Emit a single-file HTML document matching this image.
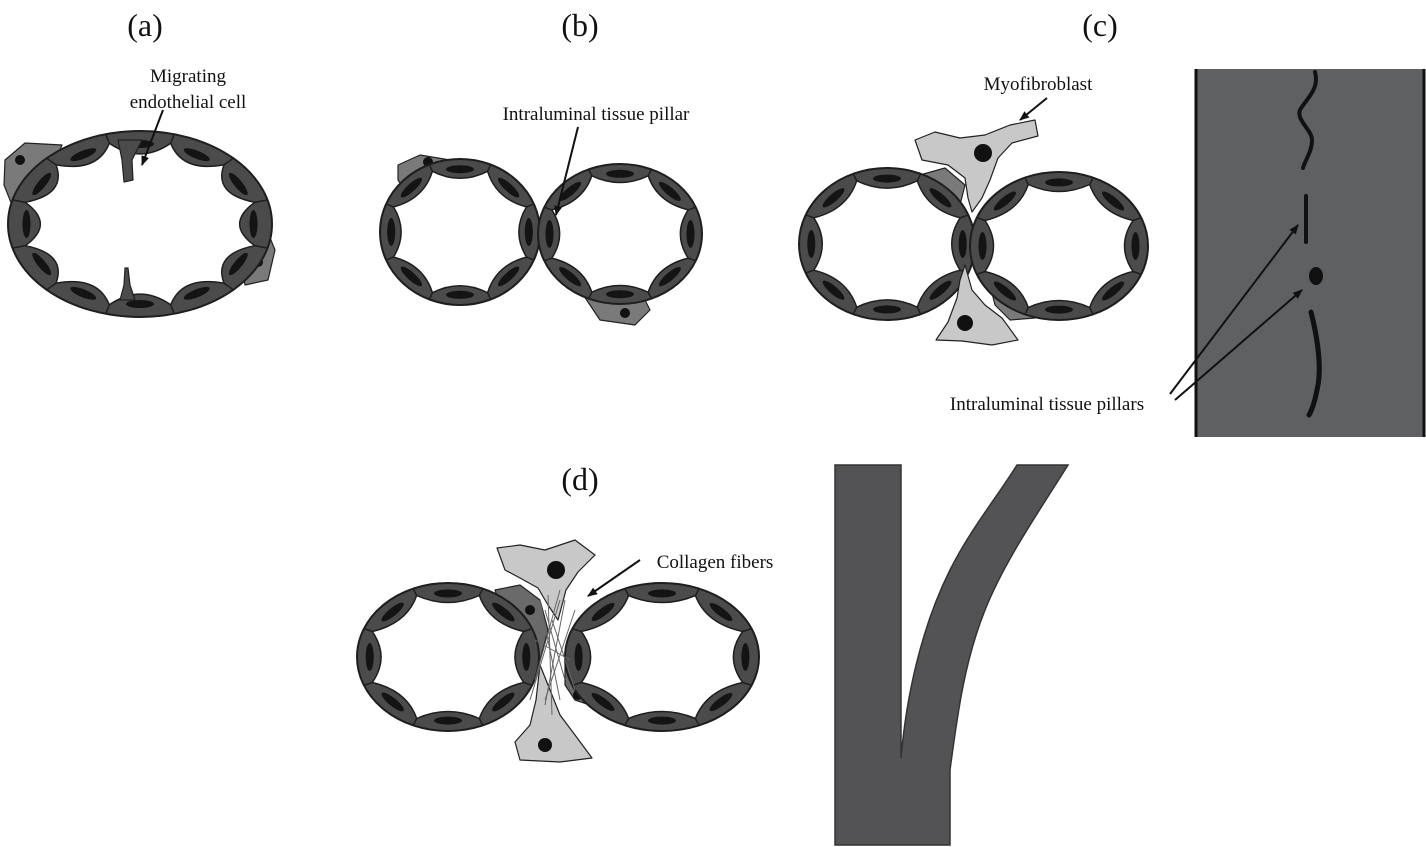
<!DOCTYPE html>
<html><head><meta charset="utf-8"><style>
html,body{margin:0;padding:0;background:#fff;}
svg{display:block;}
text{font-family:"Liberation Serif",serif;fill:#111;}
</style></head><body>
<svg id="s" width="1426" height="847" viewBox="0 0 1426 847" xmlns="http://www.w3.org/2000/svg">
<defs><marker id="ar" markerWidth="10" markerHeight="8" refX="9" refY="4" orient="auto" markerUnits="userSpaceOnUse"><path d="M0,0 L10,4 L0,8 z" fill="#111"/></marker></defs>
<text x="145" y="36" font-size="32" text-anchor="middle">(a)</text>
<text x="580" y="36" font-size="32" text-anchor="middle">(b)</text>
<text x="1100" y="36" font-size="32" text-anchor="middle">(c)</text>
<text x="580" y="490" font-size="32" text-anchor="middle">(d)</text>
<text x="188" y="82" font-size="19" text-anchor="middle">Migrating</text>
<text x="188" y="108" font-size="19" text-anchor="middle">endothelial cell</text>
<text x="596" y="120" font-size="19" text-anchor="middle">Intraluminal tissue pillar</text>
<text x="1038" y="90" font-size="19" text-anchor="middle">Myofibroblast</text>
<text x="1047" y="410" font-size="19" text-anchor="middle">Intraluminal tissue pillars</text>
<text x="715" y="568" font-size="19" text-anchor="middle">Collagen fibers</text>
<g id="g"></g>
<rect x="1196" y="69" width="229" height="368" fill="#5f6062"/>
<line x1="1196" y1="69" x2="1196" y2="437" stroke="#111" stroke-width="3"/>
<line x1="1424" y1="69" x2="1424" y2="437" stroke="#111" stroke-width="3"/>
<path d="M1315,72 C1320,90 1305,100 1300,110 C1296,120 1312,130 1312,140 C1312,152 1305,160 1303,168" stroke="#111" stroke-width="4" fill="none" stroke-linecap="round"/>
<line x1="1306" y1="196" x2="1306" y2="242" stroke="#111" stroke-width="4" stroke-linecap="round"/>
<ellipse cx="1316" cy="276" rx="7" ry="9" fill="#111"/>
<path d="M1311,312 C1318,340 1322,370 1317,390 C1315,400 1312,410 1309,415" stroke="#111" stroke-width="5" fill="none" stroke-linecap="round"/>
<path d="M835,465 L901,465 L901,758 C906,700 920,630 950,570 C970,530 995,500 1017,465 L1068,465 C1040,510 1005,560 985,610 C965,660 958,710 950,770 L950,845 L835,845 Z" fill="#535355" stroke="#333" stroke-width="1.5"/>
<g stroke="#111" stroke-width="2" fill="none" marker-end="url(#ar)">
<line x1="163" y1="110" x2="142" y2="165"/>
<line x1="578" y1="127" x2="556" y2="215"/>
<line x1="1047" y1="98" x2="1020" y2="120"/>
<line x1="1170" y1="394" x2="1298" y2="225"/>
<line x1="1175" y1="400" x2="1302" y2="290"/>
<line x1="640" y1="560" x2="588" y2="596"/>
</g>
</svg>
<script>
var g=document.getElementById('g');var h='';
function ring(cx,cy,rx,ry,n,rot){
 h+='<ellipse cx="'+cx+'" cy="'+cy+'" rx="'+rx+'" ry="'+ry+'" fill="#4b4b4b" stroke="#1e1e1e" stroke-width="2"/>';
 var d='';var V=[];
 for(var k=0;k<n;k++){var a=rot+2*Math.PI*k/n;V.push([cx+0.9*rx*Math.cos(a),cy+0.9*ry*Math.sin(a),a]);}
 for(var k=0;k<n;k++){var p=V[k],q=V[(k+1)%n];var m=rot+2*Math.PI*(k+0.5)/n;
  var c=[cx+0.64*rx*Math.cos(m),cy+0.64*ry*Math.sin(m)];
  d+=(k==0?'M'+p[0].toFixed(1)+','+p[1].toFixed(1):'')+' Q'+c[0].toFixed(1)+','+c[1].toFixed(1)+' '+q[0].toFixed(1)+','+q[1].toFixed(1);
  var nx=cx+0.86*rx*Math.cos(m),ny=cy+0.86*ry*Math.sin(m);
  var ang=Math.atan2(ry*Math.cos(m),-rx*Math.sin(m))*180/Math.PI;
  h+='<ellipse cx="'+nx.toFixed(1)+'" cy="'+ny.toFixed(1)+'" rx="14" ry="4" fill="#141414" transform="rotate('+ang.toFixed(1)+' '+nx.toFixed(1)+' '+ny.toFixed(1)+')"/>';
  h+='<line x1="'+p[0].toFixed(1)+'" y1="'+p[1].toFixed(1)+'" x2="'+(cx+rx*Math.cos(p[2])).toFixed(1)+'" y2="'+(cy+ry*Math.sin(p[2])).toFixed(1)+'" stroke="#1e1e1e" stroke-width="1.5"/>';
 }
 h+='<path d="'+d+'Z" fill="#fff" stroke="#1e1e1e" stroke-width="1.5"/>';
}
function blob(pts,fill){h+='<path d="M'+pts.join(' L')+' Z" fill="'+fill+'" stroke="#222" stroke-width="1.2" stroke-linejoin="round"/>';}
function dot(x,y,r){h+='<circle cx="'+x+'" cy="'+y+'" r="'+r+'" fill="#111"/>';}
blob(['5,160','25,143','62,145','52,170','40,195','30,215','12,205','4,185'],'#7a7a7a');dot(20,160,5);
blob(['245,200','262,218','275,250','268,280','245,285','240,260'],'#7a7a7a');dot(258,262,5);
ring(140,224,132,93,12,-Math.PI/12);
blob(['118,140','142,140','132,160','133,180','124,182','122,160'],'#4b4b4b');
blob(['120,300','135,300','130,285','128,268','125,268','124,285'],'#4b4b4b');
blob(['398,165','420,155','450,160','430,180','405,190','398,180'],'#7a7a7a');dot(428,162,5);
blob(['580,290','600,285','640,290','650,310','635,325','600,320'],'#7a7a7a');dot(625,313,5);
ring(460,232,80,73,8,-Math.PI/8);
ring(620,234,82,70,8,Math.PI*7/8);
blob(['920,175','945,168','965,185','960,205','945,195'],'#7a7a7a');
blob(['990,285','1010,288','1035,300','1035,318','1010,320','995,305'],'#7a7a7a');
ring(887,244,88,76,8,-Math.PI/8);
ring(1059,246,89,74,8,Math.PI*7/8);
blob(['915,140','935,132','960,138','985,135','1010,125','1035,120','1038,136','1012,143','998,158','990,180','982,198','972,212','968,198','965,178','948,165','922,160'],'#c8c8c8');dot(983,153,9);
blob(['965,265','972,290','985,305','1002,318','1018,340','992,345','962,341','936,340','948,322','957,298','960,280'],'#c8c8c8');dot(965,323,8);
blob(['495,590','520,585','540,600','548,630','540,660','520,665','510,640'],'#6a6a6a');dot(530,610,5);
blob(['565,660','585,650','595,680','590,705','575,700','565,685'],'#6a6a6a');dot(578,695,5);
ring(448,657,91,74,8,-Math.PI/8);
ring(662,657,97,74,8,Math.PI*7/8);
blob(['497,548','520,545','545,550','575,540','595,555','578,572','566,590','558,620','548,605','538,588','520,578','505,570'],'#c8c8c8');dot(556,570,9);
blob(['540,665','550,690','560,715','575,735','592,758','560,762','520,760','515,742','530,725','536,700'],'#c8c8c8');dot(545,745,7);
var f=[[540,600,560,700],[548,595,552,715],[560,590,535,680],[565,600,545,705],[552,620,575,690],[535,640,570,660],[545,610,565,680],[575,610,545,700],[530,700,560,600]];
f.forEach(function(l){h+='<line x1="'+l[0]+'" y1="'+l[1]+'" x2="'+l[2]+'" y2="'+l[3]+'" stroke="#666" stroke-width="1"/>';});
g.innerHTML=h;
</script>
</body></html>
